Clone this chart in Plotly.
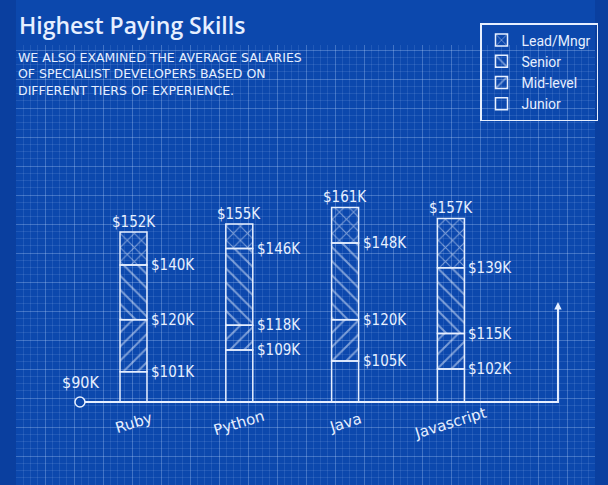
import numpy as np
import plotly.graph_objects as go

# ---------------- data ----------------
categories = ["Ruby", "Python", "Java", "Javascript"]
junior = [101, 109, 105, 102]
mid_level = [120, 118, 120, 115]
senior = [140, 146, 148, 139]
lead = [152, 155, 161, 157]
base_salary = 90
tier_names = ["Junior", "Mid-level", "Senior", "Lead/Mngr"]

title_text = "Highest Paying Skills"
subtitle_lines = [
    "WE ALSO EXAMINED THE AVERAGE SALARIES",
    "OF SPECIALIST DEVELOPERS BASED ON",
    "DIFFERENT TIERS OF EXPERIENCE.",
]

# ---------------- style ----------------
W, H = 608, 485
BG_OUTER = "#0a3f9f"
BG_INNER = "#0c48ad"
LINE = "#e6efff"
NUM_FONT = "DejaVu Sans Condensed, sans-serif"
BAR_W = 0.255
PX_PER_CAT = 105.8

xpos = np.arange(len(categories))
fmt = lambda v: f"${v}K"

fig = go.Figure()

# grid subplot (x / y)
fig.add_trace(go.Scatter(x=[], y=[], xaxis="x", yaxis="y", showlegend=False, hoverinfo="skip"))

bottoms = [[base_salary] * len(categories), junior, mid_level, senior]
tops = [junior, mid_level, senior, lead]
shapes = ["", "/", "\\", "x"]
for name, b, t, shp in zip(tier_names, bottoms, tops, shapes):
    fig.add_trace(go.Bar(
        x=xpos, y=np.array(t) - np.array(b), base=b, width=BAR_W,
        name=name, xaxis="x2", yaxis="y2",
        marker=dict(color="rgba(0,0,0,0)",
                    line=dict(color=LINE, width=1.5),
                    pattern=dict(shape=shp, fgcolor=LINE, bgcolor="rgba(0,0,0,0)",
                                 size=10, solidity=0.2, fillmode="overlay")),
        hoverinfo="skip",
    ))

# baseline axis (decoration)
x_start, x_end, arrow_top = -0.506, 4.012, 126.5
fig.add_trace(go.Scatter(x=[x_start, x_end, x_end], y=[base_salary, base_salary, arrow_top - 2],
                         mode="lines", line=dict(color=LINE, width=2),
                         xaxis="x2", yaxis="y2", showlegend=False, hoverinfo="skip"))
fig.add_trace(go.Scatter(x=[x_start], y=[base_salary], mode="markers",
                         marker=dict(symbol="circle", size=10, color=BG_INNER,
                                     line=dict(color=LINE, width=1.5)),
                         xaxis="x2", yaxis="y2", showlegend=False, hoverinfo="skip"))

ann = []
ann.append(dict(x=x_end, y=arrow_top, ax=x_end, ay=arrow_top - 6, xref="x2", yref="y2",
                axref="x2", ayref="y2", showarrow=True, arrowhead=2, arrowsize=1,
                arrowwidth=1.5, arrowcolor=LINE, text=""))
ann.append(dict(x=x_start, y=base_salary, xref="x2", yref="y2", text=fmt(base_salary),
                showarrow=False, yanchor="middle", yshift=20, xshift=1,
                font=dict(family=NUM_FONT, size=16, color=LINE)))

for i, cat in enumerate(categories):
    ann.append(dict(x=xpos[i], y=lead[i], xref="x2", yref="y2", text=fmt(lead[i]),
                    showarrow=False, yanchor="bottom", yshift=-1,
                    font=dict(family=NUM_FONT, size=15, color=LINE)))
    for v in (senior[i], mid_level[i], junior[i]):
        ann.append(dict(x=xpos[i], y=v, xref="x2", yref="y2", text=fmt(v),
                        showarrow=False, xanchor="left", yanchor="middle",
                        xshift=BAR_W * PX_PER_CAT / 2 + 2,
                        font=dict(family=NUM_FONT, size=15, color=LINE)))
    ann.append(dict(x=xpos[i], y=base_salary, xref="x2", yref="y2", text=cat,
                    showarrow=False, yanchor="middle", yshift=-21, textangle=-17,
                    font=dict(family="DejaVu Sans", size=15, color=LINE)))

ann.append(dict(x=17 / W, y=1 - 25 / H, xref="paper", yref="paper", text=title_text,
                showarrow=False, xanchor="left", yanchor="middle",
                font=dict(family="Open Sans", size=23, color=LINE, weight=600)))
for k, line in enumerate(subtitle_lines):
    ann.append(dict(x=16 / W, y=1 - (57 + 16.5 * k) / H, xref="paper", yref="paper",
                    text=line, showarrow=False, xanchor="left", yanchor="middle",
                    font=dict(family="DejaVu Sans", size=12.5, color=LINE)))

grid_common = dict(showticklabels=False, ticks="", zeroline=False, showline=False,
                   showgrid=True, gridcolor="rgba(190,215,255,0.30)", gridwidth=1, dtick=29)
minor_grid = dict(showgrid=True, gridcolor="rgba(190,215,255,0.12)", gridwidth=1, dtick=7.25)

fig.update_layout(
    width=W, height=H, autosize=False,
    margin=dict(l=0, r=0, t=0, b=0),
    paper_bgcolor=BG_OUTER, plot_bgcolor="rgba(0,0,0,0)",
    barmode="overlay",
    xaxis=dict(domain=[16 / W, 595 / W], anchor="y", range=[0, 579], minor=minor_grid, **grid_common),
    yaxis=dict(domain=[0, 440 / H], anchor="x", range=[0, 440], minor=minor_grid, **grid_common),
    xaxis2=dict(domain=[0, 1], anchor="y2", range=[-133.5 / PX_PER_CAT, (W - 133.5) / PX_PER_CAT],
                visible=False),
    yaxis2=dict(domain=[0, 1], anchor="x2", range=[base_salary - 83 / 2.74, base_salary + 402 / 2.74],
                visible=False),
    shapes=[dict(type="rect", xref="paper", yref="paper", x0=16 / W, x1=595 / W, y0=0, y1=1,
                 fillcolor=BG_INNER, line=dict(width=0), layer="below")],
    legend=dict(x=480 / W, y=1 - 23 / H, xanchor="left", yanchor="top",
                traceorder="reversed", bgcolor="rgba(0,0,0,0)",
                bordercolor=LINE, borderwidth=1.5,
                font=dict(family="Roboto", size=14, color=LINE)),
    annotations=ann,
    showlegend=True,
)

fig.write_html("out.html", config={"displayModeBar": False},
               post_script="document.body.style.margin='0';")
